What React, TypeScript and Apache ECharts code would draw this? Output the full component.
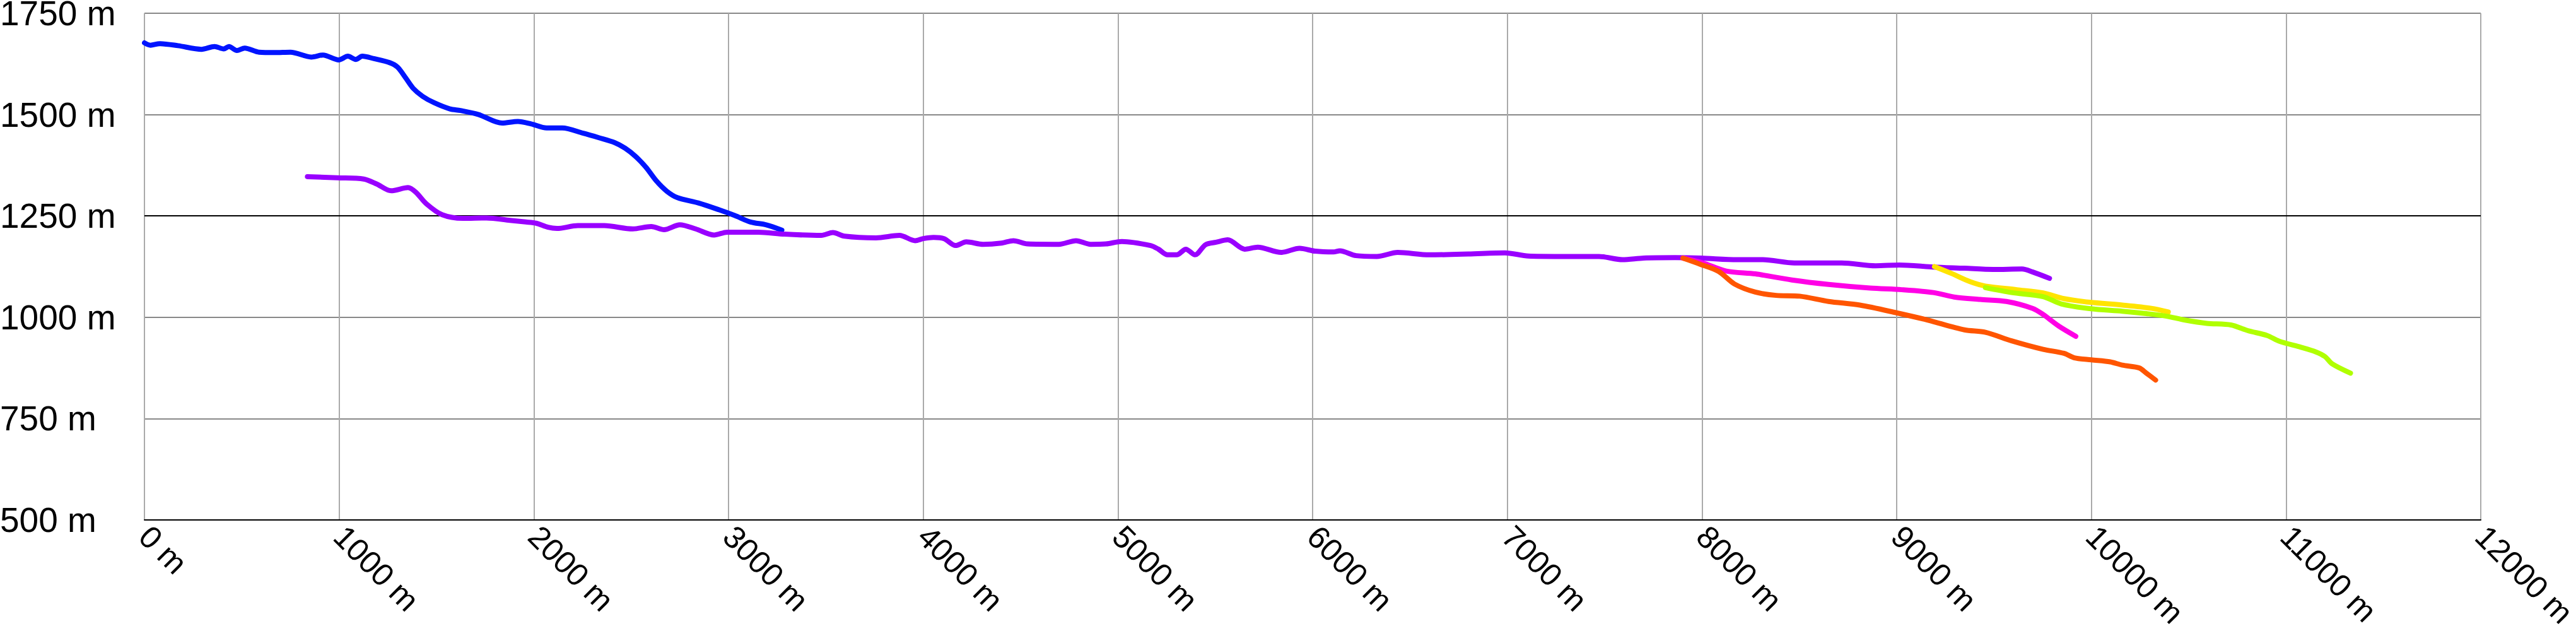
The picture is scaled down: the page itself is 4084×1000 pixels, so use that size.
import React, { useEffect, useRef } from "react";
import * as echarts from "echarts";

// distance (m), elevation (m)
const blueTrack: number[][] = [
  [0, 1677], [31, 1671], [78, 1675], [172, 1670], [293, 1661], [360, 1668], [407, 1662], [434, 1668],
  [475, 1658], [515, 1664], [589, 1654], [669, 1653], [750, 1654], [857, 1642], [917, 1647], [998, 1635],
  [1045, 1644], [1085, 1636], [1119, 1644], [1179, 1638], [1260, 1628], [1300, 1617], [1341, 1591],
  [1380, 1565], [1429, 1545], [1489, 1529], [1569, 1514], [1623, 1510], [1717, 1500], [1837, 1479],
  [1918, 1483], [1986, 1477], [2066, 1467], [2146, 1467], [2254, 1454], [2334, 1443], [2415, 1431],
  [2469, 1417], [2522, 1397], [2576, 1370], [2630, 1336], [2683, 1311], [2738, 1295], [2845, 1282],
  [2952, 1265], [3032, 1251], [3113, 1235], [3194, 1228], [3274, 1215],
];

const purpleTrack: number[][] = [
  [837, 1347], [991, 1344], [1126, 1341], [1192, 1329], [1267, 1312], [1354, 1320], [1395, 1308],
  [1448, 1280], [1529, 1253], [1636, 1244], [1757, 1245], [1878, 1239], [1959, 1235], [2012, 1232],
  [2073, 1222], [2119, 1219], [2226, 1226], [2362, 1226], [2508, 1218], [2603, 1224], [2669, 1216],
  [2750, 1228], [2831, 1218], [2926, 1203], [2993, 1210], [3153, 1210], [3288, 1205], [3476, 1202],
  [3536, 1209], [3596, 1200], [3758, 1196], [3878, 1202], [3959, 1189], [4000, 1194], [4053, 1197],
  [4107, 1194], [4166, 1177], [4221, 1186], [4308, 1180], [4402, 1183], [4463, 1189], [4536, 1181],
  [4697, 1180], [4785, 1189], [4860, 1180], [4939, 1181], [5020, 1187], [5168, 1177], [5208, 1168],
  [5255, 1154], [5302, 1154], [5349, 1168], [5396, 1154], [5450, 1179], [5504, 1185], [5564, 1191],
  [5651, 1168], [5718, 1173], [5839, 1160], [5933, 1170], [6014, 1163], [6107, 1161], [6140, 1164],
  [6223, 1152], [6330, 1150], [6437, 1160], [6599, 1154], [6800, 1156], [6988, 1159], [7108, 1151],
  [7270, 1150], [7471, 1150], [7592, 1142], [7700, 1146], [7861, 1147], [7996, 1146], [8180, 1142],
  [8313, 1142], [8475, 1134], [8718, 1134], [8892, 1127], [9013, 1129], [9188, 1124], [9348, 1121],
  [9496, 1118], [9644, 1119], [9697, 1112], [9785, 1096],
];

const magentaTrack: number[][] = [
  [7902, 1146], [8005, 1134], [8125, 1114], [8274, 1107], [8462, 1092], [8650, 1081], [8864, 1072],
  [9026, 1068], [9188, 1061], [9295, 1050], [9429, 1044], [9564, 1039], [9698, 1022], [9752, 1007],
  [9833, 978], [9920, 953],
];

const orangeTrack: number[][] = [
  [7902, 1146], [7990, 1131], [8086, 1113], [8167, 1082], [8274, 1062], [8381, 1054], [8502, 1052],
  [8650, 1039], [8811, 1030], [8999, 1011], [9160, 993], [9348, 969], [9456, 963], [9590, 942],
  [9752, 921], [9859, 911], [9913, 900], [10000, 895], [10097, 890], [10159, 882], [10246, 875],
  [10283, 862], [10330, 845],
];

const yellowTrack: number[][] = [
  [9194, 1125], [9282, 1108], [9376, 1088], [9456, 1077], [9617, 1068], [9752, 1060], [9859, 1046],
  [9993, 1037], [10159, 1030], [10308, 1022], [10395, 1013],
];

const greenTrack: number[][] = [
  [9456, 1073], [9590, 1061], [9752, 1051], [9845, 1033], [9997, 1021], [10159, 1015], [10283, 1009],
  [10382, 1003], [10481, 993], [10593, 985], [10717, 981], [10804, 967], [10903, 955], [10965, 941],
  [11077, 926], [11151, 915], [11200, 903], [11237, 885], [11331, 862],
];

const tracks = [
  { name: "blue", color: "#0014ff", data: blueTrack },
  { name: "purple", color: "#9900ff", data: purpleTrack },
  { name: "magenta", color: "#ff00e6", data: magentaTrack },
  { name: "orange", color: "#ff5500", data: orangeTrack },
  { name: "yellow", color: "#ffe400", data: yellowTrack },
  { name: "green", color: "#b0ff00", data: greenTrack },
];

const xMin = 0;
const xMax = 12000;
const xStep = 1000;
const yMin = 500;
const yMax = 1750;
const yStep = 250;
const highlightLevel = 1250;

export default function App() {
  const ref = useRef<HTMLDivElement>(null);

  useEffect(() => {
    if (!ref.current) return;
    const chart = echarts.init(ref.current, undefined, { renderer: "svg" });
    const font = "'Liberation Sans', Arial, sans-serif";
    chart.setOption({
      animation: false,
      backgroundColor: "#ffffff",
      grid: { left: 229, right: 151, top: 21, bottom: 176, outerBoundsMode: "none", containLabel: false },
      xAxis: {
        type: "value",
        min: xMin,
        max: xMax,
        interval: xStep,
        axisLine: { show: true, lineStyle: { color: "#000", width: 2 } },
        axisTick: { show: false },
        axisLabel: {
          rotate: -45,
          margin: 18,
          fontSize: 50,
          fontFamily: font,
          color: "#000",
          formatter: (v: number) => `${v} m`,
        },
        splitLine: { show: true, lineStyle: { color: "#aaa", width: 2 } },
      },
      yAxis: {
        type: "value",
        min: yMin,
        max: yMax,
        interval: yStep,
        axisLine: { show: false },
        axisTick: { show: false },
        axisLabel: {
          align: "left",
          verticalAlign: "middle",
          margin: 229,
          fontSize: 55,
          fontFamily: font,
          color: "#000",
          formatter: (v: number) => `${v} m`,
        },
        splitLine: { show: true, lineStyle: { color: "#888", width: 2 } },
      },
      series: [
        {
          type: "line",
          data: [],
          z: 1,
          silent: true,
          markLine: {
            silent: true,
            symbol: ["none", "none"],
            z: 1,
            label: { show: false },
            lineStyle: { color: "#000", width: 2, type: "solid" },
            data: [{ yAxis: highlightLevel }],
          },
        },
        ...tracks.map((t) => ({
          name: t.name,
          type: "line",
          data: t.data,
          z: 3,
          showSymbol: false,
          symbol: "none",
          smooth: 0.3,
          lineStyle: { color: t.color, width: 8, cap: "round", join: "round" },
          itemStyle: { color: t.color },
        })),
      ],
    });
    return () => chart.dispose();
  }, []);

  return (
    <div
      ref={ref}
      style={{ position: "fixed", left: 0, top: 0, width: 4084, height: 1000, background: "#fff" }}
    />
  );
}
